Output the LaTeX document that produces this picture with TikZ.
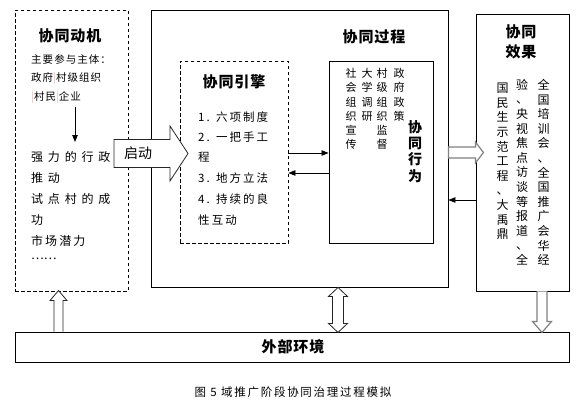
\documentclass[tikz,border=0pt]{standalone}
\usepackage{fontspec}
\setmainfont{Noto Sans CJK SC}
\usetikzlibrary{arrows.meta}
\definecolor{revmark}{RGB}{226,186,186}

\begin{document}
\begin{tikzpicture}[x=1pt,y=-1pt,
  dashbox/.style={draw,dash pattern=on 3.5pt off 2.5pt,line width=0.8pt,inner sep=0},
  solidbox/.style={draw,line width=0.9pt,inner sep=0},
  ttl/.style={inner sep=0,font=\fontsize{15}{17}\selectfont\bfseries\addfontfeature{LetterSpace=6}},
  note/.style={anchor=west,inner sep=0,font=\fontsize{10.5}{12}\selectfont\addfontfeature{LetterSpace=10}},
  body/.style={anchor=west,inner sep=0,font=\fontsize{12}{14}\selectfont\addfontfeature{LetterSpace=40}},
  item/.style={anchor=west,inner sep=0,font=\fontsize{11.5}{14}\selectfont\addfontfeature{LetterSpace=18}},
  vcol/.style={anchor=north,align=center,inner sep=0,font=\fontsize{11}{14.3}\selectfont},
  vcolb/.style={anchor=north,align=center,inner sep=0,font=\fontsize{12}{14.6}\selectfont},
  thinarrow/.style={-{Triangle[length=7pt,width=5.5pt]},line width=0.8pt},
  hollow/.style={draw=black!85,fill=white,line width=0.8pt},
  hollowgray/.style={draw=black!50,fill=white,line width=1.2pt}]
  \useasboundingbox (0,0) rectangle (582,410);

  % frames
  \node[dashbox,minimum width=113pt,minimum height=281pt] (motive) at (71.5,150.5) {};
  \node[solidbox,minimum width=297pt,minimum height=277pt] (process) at (299.5,148.5) {};
  \node[solidbox,minimum width=93pt,minimum height=277pt] (effect) at (522.5,152.5) {};
  \node[dashbox,minimum width=108pt,minimum height=182pt] (engine) at (234,152) {};
  \node[solidbox,minimum width=104pt,minimum height=182pt] (behaviour) at (381,152) {};
  \node[solidbox,minimum width=554pt,minimum height=30pt] (env) at (292,347) {};

  % titles
  \node[ttl] (motivetitle) at (70,36) {协同动机};
  \node[ttl] (processtitle) at (374,37) {协同过程};
  \node[ttl] (enginetitle) at (234,82) {协同引擎};
  \node[ttl,align=center] (effecttitle) at (521,42) {协同\\[3pt]效果};
  \node[ttl] (envtitle) at (293,347) {外部环境};

  % motive
  \node[note] (subjects) at (31,59) {主要参与主体：};
  \node[note] (partners) at (31,79) {政府{\color{revmark}|}村级组织};
  \node[note] (partnersb) at (31,98) {{\color{revmark}|}村民{\color{revmark}|}企业};
  \coordinate (motivedown) at (75,107);
  \coordinate (motiveend) at (75,142);
  \draw[thinarrow] (motivedown) -- (motiveend);
  \node[body] (push) at (31,157) {强力的行政};
  \node[body] (pushb) at (31,178) {推动};
  \node[body] (pilot) at (31,199) {试点村的成};
  \node[body] (pilotb) at (31,220) {功};
  \node[body,font=\fontsize{12}{14}\selectfont\addfontfeature{LetterSpace=17}] (market) at (31,241) {市场潜力};
  \node[body,font=\fontsize{12}{14}\selectfont] (more) at (31,259) {……};

  % engine
  \node[item] (rule1) at (198,117) {1. 六项制度};
  \node[item] (rule2) at (198,137) {2. 一把手工};
  \node[item] (rule2b) at (198,157) {程};
  \node[item] (rule3) at (198,178) {3. 地方立法};
  \node[item] (rule4) at (198,199) {4. 持续的良};
  \node[item] (rule4b) at (198,220) {性互动};

  % behaviour
  \node[vcol] (policy) at (399,68) {政\\府\\政\\策};
  \node[vcol] (supervise) at (382,68) {村\\级\\组\\织\\监\\督};
  \node[vcol] (survey) at (367,68) {大\\学\\调\\研};
  \node[vcol] (publicity) at (351,68) {社\\会\\组\\织\\宣\\传};
  \node[vcol,font=\fontsize{14}{16.4}\selectfont\bfseries] (behaviourtitle) at (415,120) {协\\同\\行\\为};

  % effect
  \node[vcolb] (result1) at (543.5,79) {全\\国\\培\\训\\会\\、\\全\\国\\推\\广\\会\\华\\经};
  \node[vcolb] (result2) at (522,79) {验\\、\\央\\视\\焦\\点\\访\\谈\\等\\报\\道\\、\\全};
  \node[vcolb] (result3) at (502.5,83) {国\\民\\生\\示\\范\\工\\程\\、\\大\\禹\\鼎};

  % connectors
  \draw[thinarrow] (engine.east |- 0,153) -- (behaviour.west |- 0,153);
  \draw[thinarrow] (behaviour.west |- 0,173) -- (engine.east |- 0,173);
  \draw[thinarrow] (effect.west |- 0,200) -- (process.east |- 0,200);
  \draw[hollowgray] (process.east |- 0,152.5) -- ++(0,-5.5) -- ++(27,0) -- ++(0,-5)
    -- ++(8,10.5) -- ++(-8,10.5) -- ++(0,-5) -- ++(-27,0) -- cycle;
  \draw[hollow] (env.north -| 58.5,0) ++(-4.5,0) -- ++(0,-31) -- ++(-4,0) -- ++(8.5,-10)
    -- ++(8.5,10) -- ++(-4,0) -- ++(0,31);
  \draw[hollow] (process.south -| 338,0) -- ++(9.5,9) -- ++(-4,0) -- ++(0,27) -- ++(4,0)
    -- ++(-9.5,9) -- ++(-9.5,-9) -- ++(4,0) -- ++(0,-27) -- ++(-4,0) -- cycle;
  \draw[hollowgray] (effect.south -| 542,0) ++(-5,0) -- ++(0,30) -- ++(-4.5,0) -- ++(9.5,11)
    -- ++(9.5,-11) -- ++(-4.5,0) -- ++(0,-30);

  % start arrow
  \coordinate (starttail) at (114,153.5);
  \draw[hollow] (starttail) ++(0,-14) -- ++(56,0) -- ++(0,-13.5) -- ++(18,27.5)
    -- ++(-18,27.5) -- ++(0,-13.5) -- ++(-56,0) -- cycle;
  \node[inner sep=0,font=\fontsize{14}{16}\selectfont] (start) at (138,153.5) {启动};

  \node[inner sep=0,font=\fontsize{11.5}{13}\selectfont\addfontfeature{LetterSpace=15}] (caption) at (293,392) {图 5 域推广阶段协同治理过程模拟};
\end{tikzpicture}
\end{document}
